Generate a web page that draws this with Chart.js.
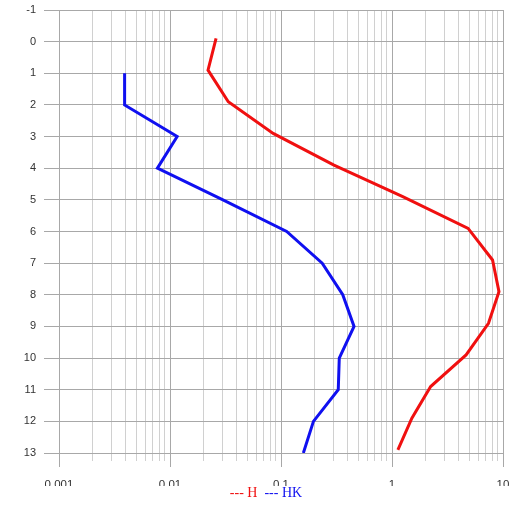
<!DOCTYPE html>
<html>
<head>
<meta charset="utf-8">
<script src="https://cdn.jsdelivr.net/npm/chart.js@4.4.1/dist/chart.umd.min.js"></script>
<style>
  html, body { margin: 0; padding: 0; background: #fff; }
</style>
</head>
<body>
<canvas id="chart" width="517" height="506"></canvas>
<script>
// depth rows and values
const hDepth = [-0.1, 0.9, 1.9, 2.9, 3.9, 4.9, 5.9, 6.9, 7.9, 8.9, 9.9, 10.9, 11.9, 12.9];
const hValues = [0.026, 0.022, 0.0335, 0.085, 0.3, 1.25, 4.85, 8.05, 9.2, 7.4, 4.65, 2.23, 1.51, 1.13];
const hkDepth = [1, 2, 3, 4, 5, 6, 7, 8, 9, 10, 11, 12, 13];
const hkValues = [0.0039, 0.0039, 0.0116, 0.0077, 0.03, 0.1125, 0.235, 0.36, 0.455, 0.335, 0.328, 0.196, 0.159];

// axis ticks
const decades = [0.001, 0.01, 0.1, 1, 10];
const decadeLabels = ['0.001', '0.01', '0.1', '1', '10'];
const depthMin = -1;
const depthMax = 13;

const MAJOR_GRID = '#a8a8a8';
const MINOR_GRID = '#d0d0d0';

function toPoints(values, depth) {
  return values.map((v, i) => ({ x: v, y: depth[i] }));
}

function isDecade(v) {
  return decades.some(d => Math.abs(d - v) / d < 1e-6);
}

// the major x ticks reach a bit further below the plot than the minor ones
const majorTickPlugin = {
  id: 'majorTicks',
  afterDraw(chart) {
    const scale = chart.scales.x;
    const ctx = chart.ctx;
    const bottom = chart.chartArea.bottom;
    ctx.save();
    ctx.strokeStyle = MAJOR_GRID;
    ctx.lineWidth = 1;
    decades.forEach(v => {
      const px = Math.round(scale.getPixelForValue(v)) + 0.5;
      ctx.beginPath();
      ctx.moveTo(px, bottom + 8);
      ctx.lineTo(px, bottom + 14);
      ctx.stroke();
    });
    ctx.restore();
  }
};

const ctx = document.getElementById('chart').getContext('2d');
const chart = new Chart(ctx, {
  type: 'scatter',
  data: {
    datasets: [{
      label: 'H',
      data: toPoints(hValues, hDepth),
      showLine: true,
      borderColor: '#f01010',
      backgroundColor: '#f01010',
      borderWidth: 3,
      pointRadius: 0,
      tension: 0
    }, {
      label: 'HK',
      data: toPoints(hkValues, hkDepth),
      showLine: true,
      borderColor: '#1010f0',
      backgroundColor: '#1010f0',
      borderWidth: 3,
      pointRadius: 0,
      tension: 0
    }]
  },
  options: {
    responsive: false,
    animation: false,
    devicePixelRatio: 1,
    layout: { padding: { left: 22, right: 14, top: 10, bottom: 0 } },
    plugins: {
      tooltip: { enabled: false },
      legend: {
        position: 'bottom',
        maxHeight: 20,
        labels: {
          boxWidth: 0,
          boxHeight: 0,
          padding: 0,
          font: { family: '"Liberation Serif", "Times New Roman", serif', size: 14 },
          generateLabels: c => c.data.datasets.map((ds, i) => ({
            text: '--- ' + ds.label,
            fontColor: ds.borderColor,
            fillStyle: 'rgba(0,0,0,0)',
            strokeStyle: 'rgba(0,0,0,0)',
            lineWidth: 0,
            hidden: false,
            datasetIndex: i
          }))
        }
      }
    },
    scales: {
      x: {
        type: 'logarithmic',
        min: decades[0],
        max: decades[decades.length - 1],
        border: { display: false },
        grid: {
          color: c => isDecade(c.tick.value) ? MAJOR_GRID : MINOR_GRID,
          tickLength: 8
        },
        ticks: {
          autoSkip: false,
          maxRotation: 0,
          padding: 17,
          color: '#333',
          font: { family: '"Liberation Sans", Arial, sans-serif', size: 11.5 },
          callback: v => {
            const i = decades.findIndex(d => Math.abs(d - v) / d < 1e-6);
            return i >= 0 ? decadeLabels[i] : '';
          }
        },
        afterBuildTicks: scale => {
          const ticks = [];
          decades.forEach((d, i) => {
            if (i === decades.length - 1) {
              ticks.push({ value: d });
              return;
            }
            for (let m = 1; m < 10; m++) ticks.push({ value: +(d * m).toPrecision(6) });
          });
          scale.ticks = ticks;
        },
        afterFit: scale => {
          scale.height = 33;
          scale.paddingLeft = 0;
          scale.paddingRight = 0;
        }
      },
      y: {
        type: 'linear',
        reverse: true,
        min: depthMin,
        max: depthMax,
        border: { display: false },
        grid: { color: MAJOR_GRID, tickLength: 15 },
        ticks: {
          stepSize: 1,
          padding: 8,
          color: '#333',
          font: { family: '"Liberation Sans", Arial, sans-serif', size: 11 }
        },
        afterFit: scale => {
          scale.width = 37;
          scale.paddingTop = 0;
          scale.paddingBottom = 0;
        }
      }
    }
  },
  plugins: [majorTickPlugin]
});
</script>
</body>
</html>
